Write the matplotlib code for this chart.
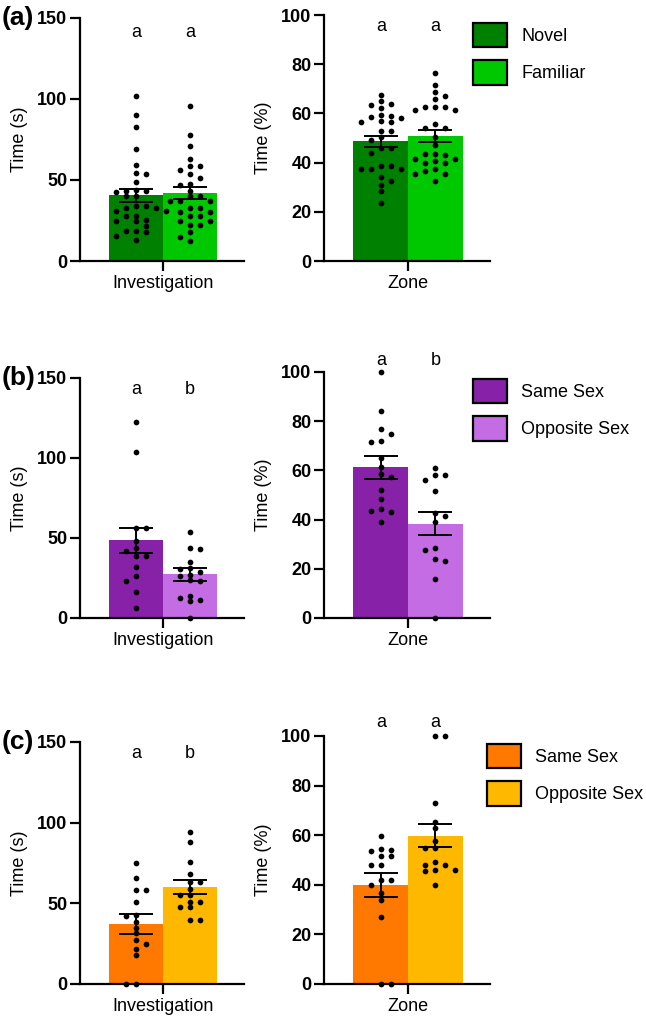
import numpy as np
import matplotlib
matplotlib.use('Agg')
import matplotlib.pyplot as plt
from matplotlib.patches import Patch

plt.rcParams['font.family'] = ['Liberation Sans', 'DejaVu Sans']
plt.rcParams['font.size'] = 13

# (a) novel vs familiar
a_inv_novel = [102, 90, 82.5, 69, 59, 54.5, 53.5, 48.5, 44, 43.5, 43, 42.5, 40, 40, 34, 34, 33,
               32.5, 31, 31, 28, 27.5, 24.5, 24.5, 25, 21.5, 18.5, 18.5, 18, 15.5, 13]
a_inv_familiar = [95.5, 77.5, 71, 63, 58.5, 58.5, 56, 54, 51.5, 47.5, 47, 43.5, 40, 40, 37, 37,
                  37, 33, 32.5, 30, 30, 27.5, 27.5, 24.5, 24.5, 22, 22, 18, 15, 12.5]
a_zone_novel = [67.5, 65, 64, 63.5, 62, 59.5, 59, 58.5, 58, 57, 56.5, 56.5, 53, 53, 50.5, 49, 46,
                46, 44, 38.5, 38.5, 37.5, 37.5, 37.5, 34, 32.5, 31, 28.5, 23.5]
a_zone_familiar = [76.5, 71.5, 68.5, 67, 66, 62.5, 62.5, 62.5, 61.5, 61.5, 55.5, 54, 54, 50.5, 47,
                   43.5, 43.5, 43, 41.5, 41.5, 40.5, 40, 40, 37.5, 36.5, 35.5, 35.5, 32.5]
a_inv_mean = [40.6, 41.8]
a_inv_sem = [4.1, 3.8]
a_zone_mean = [48.6, 50.8]
a_zone_sem = [2.2, 2.3]

# (b) same vs opposite sex
b_inv_same = [122.5, 103.5, 56, 56, 48, 44, 42, 38.5, 38.5, 32, 26, 23, 16, 6]
b_inv_opp = [54, 43.5, 43, 35, 31.5, 30.5, 29, 27, 26, 23.5, 23, 14, 12.5, 11, 10.5, 0]
b_zone_same = [100, 84, 77, 75, 72, 71.5, 65, 61.5, 58.5, 57.5, 52, 48.5, 44.5, 43.5, 43, 39]
b_zone_opp = [61, 58, 58, 56, 51.5, 42.5, 41.5, 39, 28.5, 27.5, 24, 23, 16, 0]
b_inv_mean = [48.6, 27.2]
b_inv_sem = [7.9, 3.8]
b_zone_mean = [61.2, 38.4]
b_zone_sem = [4.8, 4.8]

# (c) same vs opposite sex
c_inv_same = [75, 65.5, 58.5, 58, 51, 42.5, 42, 38.5, 35, 31.5, 27, 25, 22, 18, 0, 0]
c_inv_opp = [94.5, 88, 75.5, 68, 63, 63, 59, 55, 55, 51, 51, 47.5, 47.5, 39.5, 39.5]
c_zone_same = [59.5, 54.5, 54, 53.5, 51.5, 51.5, 48, 48, 42, 42, 40, 36.5, 34, 27, 0, 0]
c_zone_opp = [100, 100, 73, 65.5, 63, 57.5, 55, 55, 49, 48, 48, 46, 45.5, 46, 40]
c_inv_mean = [37.3, 60.2]
c_inv_sem = [6.0, 4.2]
c_zone_mean = [39.8, 59.8]
c_zone_sem = [4.9, 4.7]

W, H = 646, 1017
fig = plt.figure(figsize=(W / 100, H / 100), dpi=100)


def rect(x0, x1, ytop, ybot):
    return [x0 / W, 1 - ybot / H, (x1 - x0) / W, (ybot - ytop) / H]


def swarm(ax, vals, center, step=10.0, band=5.0):
    # column scatter: points in the same row band need a full step apart
    tr = ax.transData
    x0 = tr.transform((center, 0))[0]
    ppx = tr.transform((center + 1, 0))[0] - x0
    ys = np.array([tr.transform((center, v))[1] for v in vals])
    placed = []
    offs = np.zeros(len(vals))
    side = 1
    for i in np.argsort(-ys):
        cands = [0.0]
        for k in range(1, 14):
            cands += [side * k * step / 2, -side * k * step / 2]
        for c in cands:
            ok = True
            for px, py in placed:
                if abs(ys[i] - py) < band and abs(c - px) < step - 0.5:
                    ok = False
                    break
            if ok:
                break
        placed.append((c, ys[i]))
        offs[i] = c
        if c != 0:
            side = -np.sign(c)
    return center + offs / ppx


def panel(r, groups, means, sems, colors, ymax, ystep, ylabel, xlabel, letters, letter_y):
    ax = fig.add_axes(r)
    ax.set_xlim(-1.54, 1.5)
    ax.set_ylim(0, ymax)
    ax.bar([-0.5, 0.5], means, width=1.0, color=colors, zorder=1)
    for j, vals in enumerate(groups):
        xs = swarm(ax, vals, j - 0.5)
        ax.scatter(xs, vals, s=17, color='black', zorder=3, clip_on=False, linewidths=0)
    ax.errorbar([-0.5, 0.5], means, yerr=sems, fmt='none', ecolor='black',
                elinewidth=1.4, capsize=12, capthick=1.4, zorder=4)
    for j, t in enumerate(letters):
        ax.text(j - 0.5, letter_y, t, ha='center', va='baseline', fontsize=13, clip_on=False)
    ax.spines[['top', 'right']].set_visible(False)
    ax.spines[['left', 'bottom']].set_linewidth(1.6)
    ax.set_yticks(np.arange(0, ymax + 1, ystep))
    ax.set_xticks([0])
    ax.set_xticklabels([xlabel])
    ax.tick_params(axis='both', length=7, width=1.6, labelsize=13, pad=2)
    ax.tick_params(axis='x', pad=3)
    for lab in ax.get_yticklabels():
        lab.set_fontweight('bold')
    ax.set_ylabel(ylabel, fontsize=13, labelpad=7)
    return ax


def legend(labels, colors, x, ytop):
    handles = [Patch(facecolor=c, edgecolor='black', linewidth=1.6) for c in colors]
    fig.legend(handles, labels, loc='upper left', bbox_to_anchor=(x / W, 1 - ytop / H),
               frameon=False, fontsize=13, handlelength=1.88, handleheight=1.69,
               labelspacing=0.72, handletextpad=0.78, borderpad=0, borderaxespad=0)


greens = ['#008000', '#00c800']
purples = ['#8722a8', '#c46ce4']
oranges = ['#ff7800', '#ffb800']

panel(rect(80, 244, 18, 261), [a_inv_novel, a_inv_familiar], a_inv_mean, a_inv_sem, greens,
      150, 50, 'Time (s)', 'Investigation', ['a', 'a'], 138)
panel(rect(324, 490, 15, 261), [a_zone_novel, a_zone_familiar], a_zone_mean, a_zone_sem, greens,
      100, 20, 'Time (%)', 'Zone', ['a', 'a'], 93.5)
legend(['Novel', 'Familiar'], greens, 473, 23)

panel(rect(80, 244, 378, 618), [b_inv_same, b_inv_opp], b_inv_mean, b_inv_sem, purples,
      150, 50, 'Time (s)', 'Investigation', ['a', 'b'], 140)
panel(rect(324, 490, 372, 618), [b_zone_same, b_zone_opp], b_zone_mean, b_zone_sem, purples,
      100, 20, 'Time (%)', 'Zone', ['a', 'b'], 103)
legend(['Same Sex', 'Opposite Sex'], purples, 473, 379)

panel(rect(80, 244, 742, 984), [c_inv_same, c_inv_opp], c_inv_mean, c_inv_sem, oranges,
      150, 50, 'Time (s)', 'Investigation', ['a', 'b'], 140)
panel(rect(324, 490, 736, 984), [c_zone_same, c_zone_opp], c_zone_mean, c_zone_sem, oranges,
      100, 20, 'Time (%)', 'Zone', ['a', 'a'], 103.5)
legend(['Same Sex', 'Opposite Sex'], oranges, 487, 744)

for tag, yc in [('(a)', 18), ('(b)', 378), ('(c)', 742)]:
    fig.text(2 / W, 1 - yc / H, tag, fontsize=19, fontweight='bold', ha='left', va='center')

fig.savefig('out.png', dpi=100)
